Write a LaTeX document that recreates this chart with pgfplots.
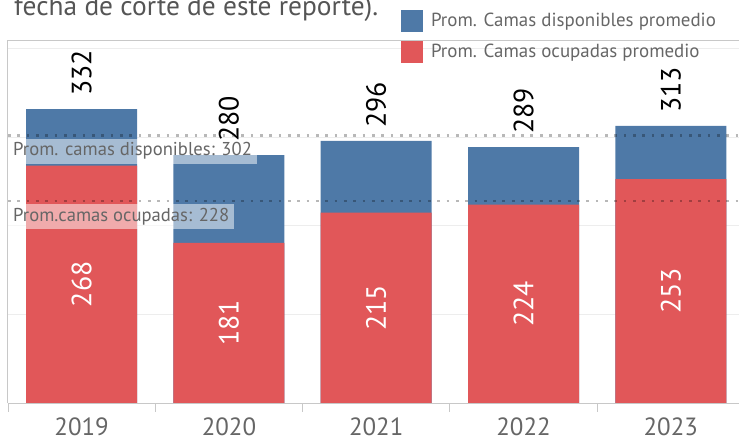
\documentclass[border=0pt]{standalone}
\usepackage{pgfplots}
\pgfplotsset{compat=1.18}
\usepackage{fontspec}
\setmainfont{PT Sans}
\definecolor{tblue}{HTML}{4E79A7}
\definecolor{tred}{HTML}{E15759}
\definecolor{txt}{HTML}{666666}
\definecolor{ttl}{HTML}{555555}
\definecolor{axgray}{HTML}{C8C8C8}
\definecolor{gridgray}{HTML}{EDEDED}
\begin{document}
\begin{tikzpicture}
\begin{axis}[
  at={(0,0)}, anchor=south west,
  scale only axis, width=731bp, height=363bp,
  xmin=-0.5, xmax=4.463, ymin=0, ymax=410,
  clip=false,
  axis line style={draw=none},
  tick pos=left,
  major tick length=0pt,
  ytick={100,200,300,400}, yticklabels={},
  ymajorgrids, major grid style={gridgray, line width=1bp},
  xtick={0,1,2,3,4},
  xticklabels={2019,2020,2021,2022,2023},
  xticklabel style={anchor=base, yshift=-32bp, font=\fontsize{25}{28}\selectfont, text=txt},
  /pgf/number format/assume math mode=true,
  legend style={at={(rel axis cs:0,1)}, anchor=north west, xshift=393bp, yshift=30bp,
    draw=none, fill=none, inner sep=0pt, outer sep=0pt,
    font=\fontsize{19}{22}\selectfont, text=txt, row sep=9bp,
    nodes={inner sep=0pt, outer sep=0pt},
    /tikz/every odd column/.append style={column sep=8bp}},
  legend cell align=left,
]
% separators
\pgfplotsinvokeforeach{-0.5,0.5,1.5,2.5,3.5}{\draw[axgray, line width=0.8bp] (axis cs:#1,0) -- ([yshift=-9bp]axis cs:#1,0);}
% bars
\addplot[ybar, bar width=111bp, bar shift=0pt, fill=tblue, draw=none,
  legend image code/.code={\fill[tblue] (0bp,-11bp) rectangle (22bp,11bp);},
  nodes near coords, point meta=explicit symbolic,
  every node near coord/.append style={rotate=90, anchor=west, inner xsep=13bp, inner ysep=0pt, text=black, font=\fontsize{28}{30}\selectfont}]
  coordinates {(0,332)[332] (1,280)[280] (2,296)[296] (3,289)[289] (4,313)[313]};
\addlegendentry{Prom. Camas disponibles promedio}
\addplot[ybar, bar width=111bp, bar shift=0pt, fill=tred, draw=none,
  legend image code/.code={\fill[tred] (0bp,-11bp) rectangle (22bp,11bp);}]
  coordinates {(0,268) (1,181) (2,215) (3,224) (4,253)};
\addlegendentry{Prom. Camas ocupadas promedio}
% labels inside red bars (at half height)
\addplot[forget plot, draw=none, mark=none, nodes near coords, point meta=explicit symbolic,
  every node near coord/.append style={rotate=90, anchor=center, inner sep=0pt, text=white, font=\fontsize{28}{30}\selectfont}]
  coordinates {(0,134)[268] (1,90.5)[181] (2,107.5)[215] (3,112)[224] (4,126.5)[253]};
% reference lines
\addplot[forget plot, black, opacity=0.28, line width=2.7bp, dash pattern=on 2.7bp off 6.63bp]
  coordinates {(-0.5,302) (4.463,302)};
\addplot[forget plot, black, opacity=0.28, line width=2.7bp, dash pattern=on 2.7bp off 6.63bp]
  coordinates {(-0.5,228) (4.463,228)};
\node[anchor=north west, fill=white, fill opacity=0.5, text opacity=1, text=txt,
  inner xsep=5bp, inner ysep=4bp, text height=13bp, text depth=4bp,
  font=\fontsize{18.7}{21}\selectfont] at (axis cs:-0.5,302) [yshift=-3bp] {Prom. camas disponibles: 302};
\node[anchor=north west, fill=white, fill opacity=0.5, text opacity=1, text=txt,
  inner xsep=5bp, inner ysep=4bp, text height=13bp, text depth=4bp,
  font=\fontsize{18.7}{21}\selectfont] at (axis cs:-0.5,228) [yshift=-3bp] {Prom.camas ocupadas: 228};
% frame
\draw[axgray, line width=1bp] (rel axis cs:0,0) -- (rel axis cs:0,1) -- (rel axis cs:1,1);
\draw[axgray, line width=1bp] (rel axis cs:0,0) -- (rel axis cs:1,0);
% title (cropped)
\node[anchor=base west, inner sep=0pt, text=ttl, font=\fontsize{27.5}{30}\selectfont]
  at (rel axis cs:0,1) [xshift=6bp, yshift=25bp] {fecha de corte de este reporte).};
\end{axis}
\pgfresetboundingbox
\path[use as bounding box] (-8bp,-38bp) rectangle (731bp,403bp);
\end{tikzpicture}
\end{document}
